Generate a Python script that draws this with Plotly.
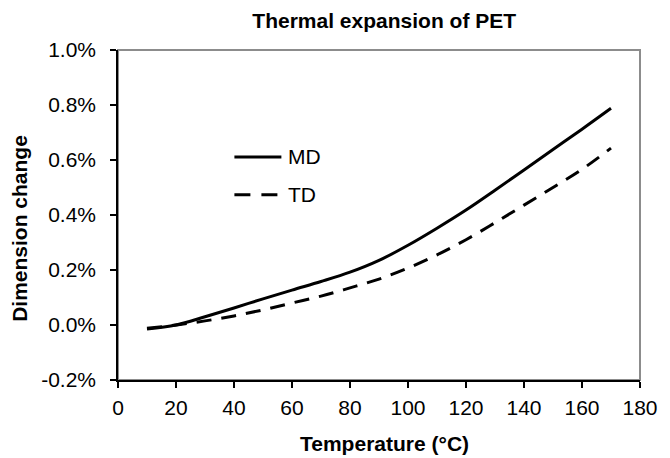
import plotly.graph_objects as go

# Dimension change (%) versus temperature for PET film
temp_c = [10, 20, 30, 40, 50, 60, 70, 80, 90, 100, 110, 120, 130, 140, 150, 160, 170]
md_pct = [-0.015, 0.0, 0.03, 0.062, 0.095, 0.127, 0.158, 0.192, 0.235, 0.29, 0.352, 0.418, 0.49, 0.564, 0.638, 0.712, 0.788]
td_pct = [-0.012, 0.0, 0.015, 0.033, 0.055, 0.08, 0.105, 0.135, 0.167, 0.207, 0.255, 0.31, 0.372, 0.436, 0.5, 0.566, 0.643]

x_ticks = [0, 20, 40, 60, 80, 100, 120, 140, 160, 180]
y_ticks = [-0.2, 0.0, 0.2, 0.4, 0.6, 0.8, 1.0]
y_tick_text = ["-0.2%", "0.0%", "0.2%", "0.4%", "0.6%", "0.8%", "1.0%"]

series_names = ["MD", "TD"]
series_dash = ["solid", "15px,10px"]

FONT = "Liberation Sans, Arial, sans-serif"

fig = go.Figure()
for name, vals, dash in zip(series_names, [md_pct, td_pct], series_dash):
    fig.add_trace(go.Scatter(
        x=temp_c, y=vals, name=name, mode="lines", showlegend=False,
        line=dict(color="black", width=3, dash=dash, shape="spline"),
    ))

# Key drawn in the plot area: a sample line plus its label for each series
key_shapes = []
notes = []
for i, (name, dash) in enumerate(zip(series_names, series_dash)):
    ky = 0.676 - i * 0.115
    key_shapes.append(dict(
        type="line", xref="paper", yref="paper",
        x0=0.223, x1=0.313, y0=ky, y1=ky,
        line=dict(color="black", width=3, dash="16px,11px" if dash != "solid" else "solid"),
    ))
    notes.append(dict(
        text=name, xref="paper", yref="paper", x=0.322, y=ky,
        xanchor="left", yanchor="middle", showarrow=False,
        font=dict(size=21, family=FONT, color="black"),
    ))

# Axis titles
notes.append(dict(
    text="<b>Dimension change</b>", xref="paper", yref="paper",
    x=0, y=0.458, xshift=-98, xanchor="center", yanchor="middle",
    textangle=-90, showarrow=False,
    font=dict(size=21, family=FONT, color="black"),
))
notes.append(dict(
    text="<b>Temperature (°C)</b>", xref="paper", yref="paper",
    x=0.51, y=0, yshift=-63, xanchor="center", yanchor="middle",
    showarrow=False,
    font=dict(size=21, family=FONT, color="black"),
))

fig.update_layout(
    width=670, height=458,
    margin=dict(l=118, r=19, t=50, b=78),
    paper_bgcolor="white", plot_bgcolor="white",
    font=dict(family=FONT, size=21, color="black"),
    title=dict(
        text="<b>Thermal expansion of PET</b>",
        x=0.51, xref="paper", xanchor="center",
        y=0.956, yref="container", yanchor="middle",
        font=dict(size=21, family=FONT, color="black"),
    ),
    showlegend=False,
    shapes=[dict(
        type="rect", xref="paper", yref="paper", x0=0, y0=0, x1=1, y1=1,
        line=dict(color="#8c8c8c", width=2), layer="below",
    )] + key_shapes,
    annotations=notes,
)

fig.update_xaxes(
    range=[0, 180], tickvals=x_ticks,
    showgrid=False, zeroline=False,
    showline=True, linecolor="black", linewidth=1.5,
    ticks="outside", ticklen=6, tickcolor="black", tickwidth=1.5,
    ticklabelstandoff=2,
)
fig.update_yaxes(
    range=[-0.2, 1.0], tickvals=y_ticks, ticktext=y_tick_text,
    showgrid=False, zeroline=False,
    showline=True, linecolor="black", linewidth=1.5,
    ticks="outside", ticklen=6, tickcolor="black", tickwidth=1.5,
    ticklabelstandoff=10,
)

fig.write_html("out.html")
